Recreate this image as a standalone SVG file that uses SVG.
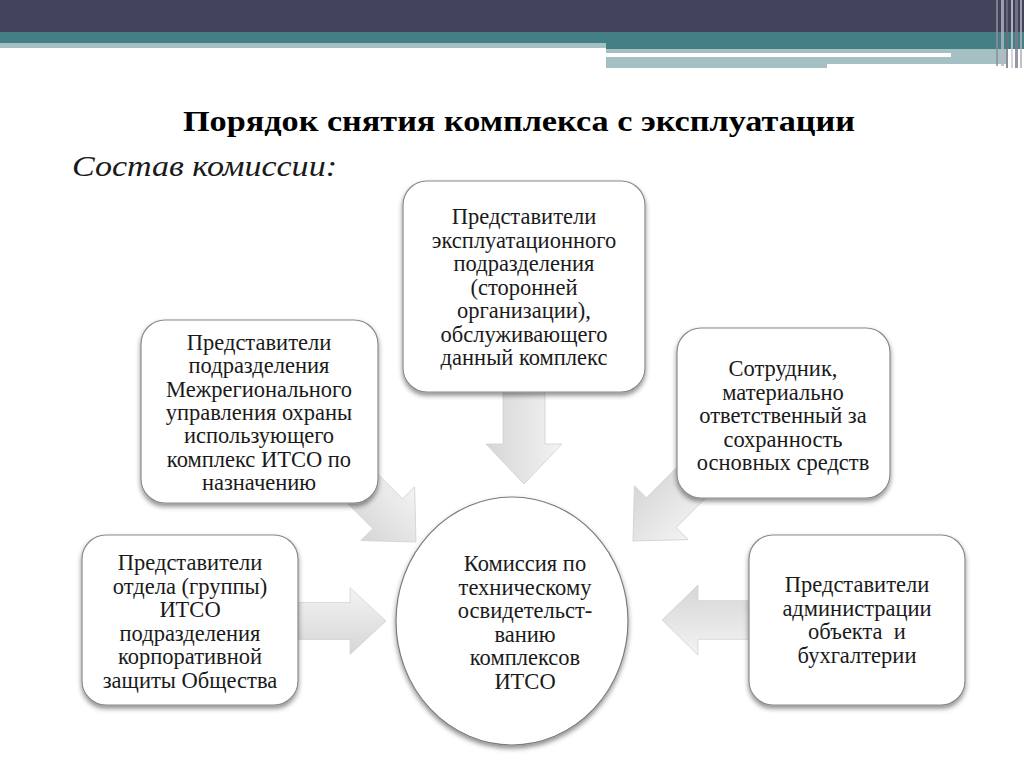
<svg xmlns="http://www.w3.org/2000/svg" width="1024" height="767" viewBox="0 0 1024 767">
<defs>
<style>
.t{font-family:"Liberation Serif","Times New Roman",serif;font-size:22.5px;fill:#1a1a1a;text-anchor:middle}
.h{font-family:"Liberation Serif","Times New Roman",serif}
.box{fill:#ffffff;stroke:#8a8a8a;stroke-width:1.2;filter:url(#sh)}
.arr{fill:url(#ag);stroke:#d0d0d0;stroke-width:0.8}
</style>
<filter id="sh" x="-10%" y="-10%" width="120%" height="125%">
<feDropShadow dx="0" dy="3" stdDeviation="2.5" flood-color="#000" flood-opacity="0.45"/>
</filter>
<linearGradient id="ag" x1="0" y1="0" x2="0" y2="1">
<stop offset="0" stop-color="#f3f3f3"/>
<stop offset="1" stop-color="#d6d6d6"/>
</linearGradient>
<polygon id="arrowShape" points="0,0 -40,-38 -40,-21 -100,-21 -100,21 -40,21 -40,38"/>
</defs>
<rect width="1024" height="767" fill="#ffffff"/>
<g id="header">
<rect x="0" y="0" width="1024" height="32" fill="#40435a"/>
<rect x="0" y="32" width="1024" height="11" fill="#437f85"/>
<rect x="0" y="43" width="606" height="5" fill="#a5c0c3"/>
<rect x="606" y="43" width="418" height="6" fill="#437f85"/>
<rect x="606" y="49" width="400" height="15" fill="#a5c0c3"/>
<rect x="606" y="53" width="345" height="4" fill="#ffffff"/>
<rect x="606" y="64" width="221" height="4" fill="#a5c0c3"/>
<rect x="996" y="0" width="2" height="66" fill="#8c8e9c" opacity="0.8"/>
<rect x="1001" y="0" width="3" height="66" fill="#b5b7c2" opacity="0.8"/>
<rect x="1006" y="0" width="2" height="68" fill="#6c6f80" opacity="0.8"/>
<rect x="1011" y="0" width="2" height="68" fill="#c8cad2" opacity="0.8"/>
<rect x="1015" y="0" width="3" height="68" fill="#7a7d8d" opacity="0.8"/>
<rect x="1020" y="0" width="2" height="68" fill="#b0b2bd" opacity="0.8"/>
</g>
<text class="h" x="519" y="131" font-weight="bold" font-size="30" text-anchor="middle" textLength="672" lengthAdjust="spacingAndGlyphs" fill="#000">Порядок снятия комплекса с эксплуатации</text>
<text class="h" x="72" y="176" font-style="italic" font-size="30" textLength="265" lengthAdjust="spacingAndGlyphs" fill="#1a1a1a">Состав комиссии:</text>
<g id="connectors">
<use href="#arrowShape" class="arr" transform="translate(524,484) rotate(90)"/>
<use href="#arrowShape" class="arr" transform="translate(416,542) rotate(45)"/>
<use href="#arrowShape" class="arr" transform="translate(633,541) rotate(135)"/>
<use href="#arrowShape" class="arr" transform="translate(386,621) scale(0.9,0.88)"/>
<use href="#arrowShape" class="arr" transform="translate(662,620) rotate(180) scale(0.9,0.92)"/>
</g>
<g id="node-top">
<rect class="box" x="403" y="181" width="242" height="211" rx="24"/>
<text class="t" x="524" y="224">Представители</text>
<text class="t" x="524" y="247.5">эксплуатационного</text>
<text class="t" x="524" y="271">подразделения</text>
<text class="t" x="524" y="294.5">(сторонней</text>
<text class="t" x="524" y="318">организации),</text>
<text class="t" x="524" y="341.5">обслуживающего</text>
<text class="t" x="524" y="365">данный комплекс</text>
</g>
<g id="node-upper-left">
<rect class="box" x="141" y="320" width="237" height="183" rx="24"/>
<text class="t" x="259" y="350">Представители</text>
<text class="t" x="259" y="373.3">подразделения</text>
<text class="t" x="259" y="396.6">Межрегионального</text>
<text class="t" x="259" y="419.9">управления охраны</text>
<text class="t" x="259" y="443.2">использующего</text>
<text class="t" x="259" y="466.5">комплекс ИТСО по</text>
<text class="t" x="259" y="489.8">назначению</text>
</g>
<g id="node-upper-right">
<rect class="box" x="677" y="328" width="213" height="170" rx="24"/>
<text class="t" x="783" y="376">Сотрудник,</text>
<text class="t" x="783" y="399.5">материально</text>
<text class="t" x="783" y="423">ответственный за</text>
<text class="t" x="783" y="446.5">сохранность</text>
<text class="t" x="783" y="470">основных средств</text>
</g>
<g id="node-lower-left">
<rect class="box" x="82" y="535" width="216" height="170" rx="24"/>
<text class="t" x="190" y="570">Представители</text>
<text class="t" x="190" y="593.5">отдела (группы)</text>
<text class="t" x="190" y="617">ИТСО</text>
<text class="t" x="190" y="640.5">подразделения</text>
<text class="t" x="190" y="664">корпоративной</text>
<text class="t" x="190" y="687.5">защиты Общества</text>
</g>
<g id="node-lower-right">
<rect class="box" x="749" y="535" width="216" height="170" rx="24"/>
<text class="t" x="857" y="592">Представители</text>
<text class="t" x="857" y="615.5">администрации</text>
<text class="t" x="857" y="639" xml:space="preserve">объекта  и</text>
<text class="t" x="857" y="662.5">бухгалтерии</text>
</g>
<g id="node-center">
<ellipse cx="512" cy="621" rx="116" ry="124" fill="#ffffff" stroke="#7a7a7a" stroke-width="1.2" filter="url(#sh)"/>
<text class="t" x="525" y="571">Комиссия по</text>
<text class="t" x="525" y="594.5">техническому</text>
<text class="t" x="525" y="618">освидетельст-</text>
<text class="t" x="525" y="641.5">ванию</text>
<text class="t" x="525" y="665">комплексов</text>
<text class="t" x="525" y="688.5">ИТСО</text>
</g>
</svg>
